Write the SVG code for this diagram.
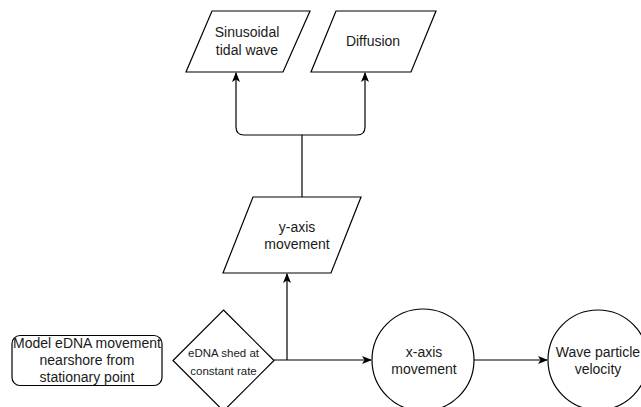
<svg xmlns="http://www.w3.org/2000/svg" width="641" height="407" viewBox="0 0 641 407">
<defs>
<style>
.shape{fill:#fff;stroke:#000;stroke-width:1.2}
.edge{fill:none;stroke:#000;stroke-width:1.2}
text{font-family:"Liberation Sans",Arial,Helvetica,sans-serif;font-size:14px;fill:#1a1a1a;text-anchor:middle}
.small{font-size:11.5px}
</style>
<marker id="arr" viewBox="0 0 10 8" refX="9" refY="4" markerWidth="10" markerHeight="8" markerUnits="userSpaceOnUse" orient="auto">
<path d="M0,0 L10,4 L0,8 L2.5,4 z" fill="#000"/>
</marker>
</defs>
<rect width="641" height="407" fill="#fff"/>
<g id="connectors">
<path class="edge" d="M302,197 V135 H244 Q236,135 236,127 V73" marker-end="url(#arr)"/>
<path class="edge" d="M302,135 H357 Q365,135 365,127 V73" marker-end="url(#arr)"/>
<path class="edge" d="M274,360 H371" marker-end="url(#arr)"/>
<path class="edge" d="M287,360 V274" marker-end="url(#arr)"/>
<path class="edge" d="M474,360 H547" marker-end="url(#arr)"/>
</g>
<g id="sinusoidal">
<polygon class="shape" points="212,11 310,11 283,72 186,72"/>
<text x="247" y="37">Sinusoidal</text>
<text x="247" y="55">tidal wave</text>
</g>
<g id="diffusion">
<polygon class="shape" points="336,11 436,11 411,72 311,72"/>
<text x="373" y="46">Diffusion</text>
</g>
<g id="yaxis">
<polygon class="shape" points="253,197 361,197 331,273 223,273"/>
<text x="297" y="232">y-axis</text>
<text x="297" y="249">movement</text>
</g>
<g id="model">
<rect class="shape" x="12" y="335.5" width="150" height="50" rx="8"/>
<text x="87" y="348">Model eDNA movement</text>
<text x="87" y="365">nearshore from</text>
<text x="87" y="381.5">stationary point</text>
</g>
<g id="shed">
<polygon class="shape" points="223.5,310 274,360.5 223.5,411 173,360.5"/>
<text class="small" x="223.5" y="357">eDNA shed at</text>
<text class="small" x="223.5" y="375">constant rate</text>
</g>
<g id="xaxis">
<circle class="shape" cx="423" cy="360" r="51"/>
<text x="424" y="357">x-axis</text>
<text x="424" y="374">movement</text>
</g>
<g id="wave">
<circle class="shape" cx="598" cy="360" r="50"/>
<text x="598" y="357">Wave particle</text>
<text x="598" y="374">velocity</text>
</g>
</svg>
